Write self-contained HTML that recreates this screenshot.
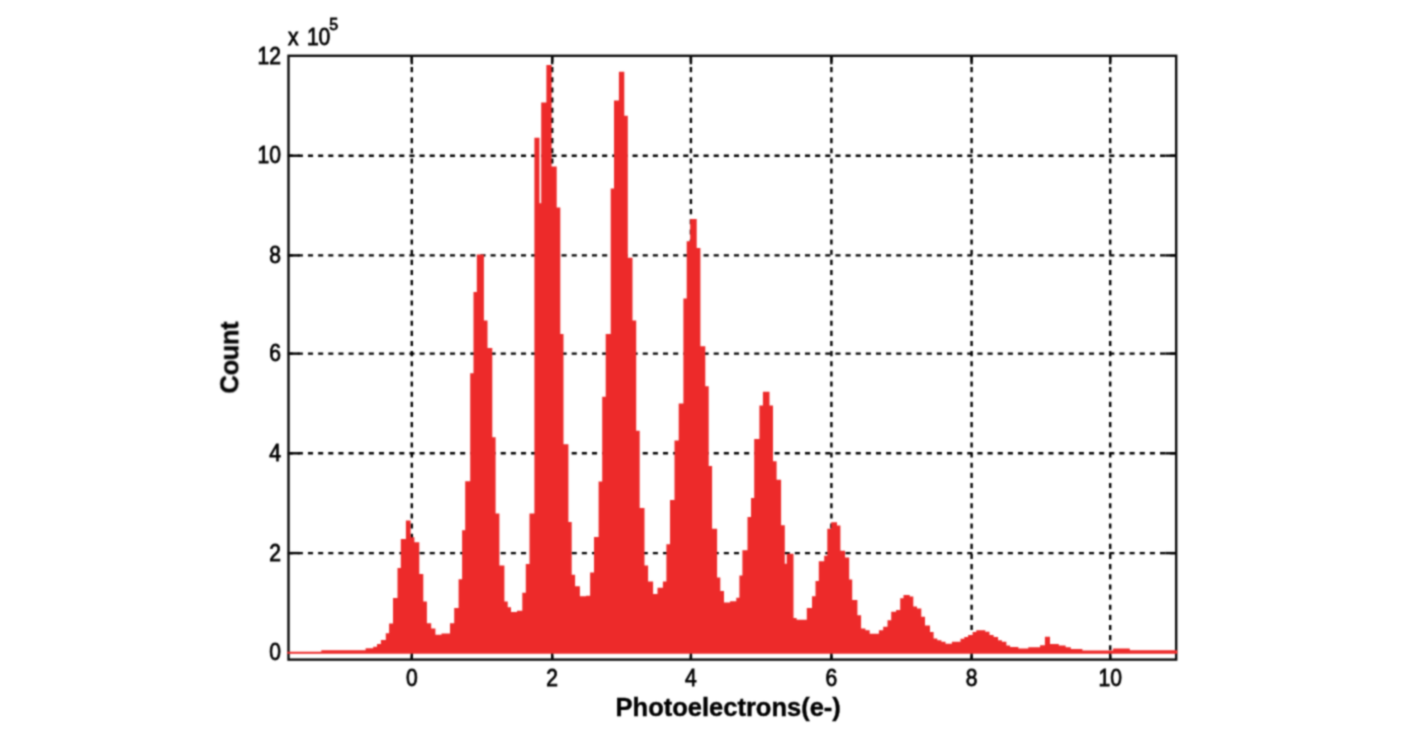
<!DOCTYPE html>
<html><head><meta charset="utf-8"><title>Photoelectron histogram</title>
<style>
html,body{margin:0;padding:0;background:#fff;}
body{width:1407px;height:732px;overflow:hidden;position:relative;}
svg{position:absolute;left:0;top:0;}
text{font-family:"Liberation Sans",Arial,sans-serif;}
</style></head><body>
<svg width="1407" height="732" viewBox="0 0 1407 732">
<defs><filter id="bl" x="0" y="0" width="1407" height="732" filterUnits="userSpaceOnUse" color-interpolation-filters="sRGB"><feConvolveMatrix order="5" kernelMatrix="0.00048 0.00501 0.01095 0.00501 0.00048 0.00501 0.05222 0.11405 0.05222 0.00501 0.01095 0.11405 0.24912 0.11405 0.01095 0.00501 0.05222 0.11405 0.05222 0.00501 0.00048 0.00501 0.01095 0.00501 0.00048" edgeMode="duplicate"/></filter></defs>
<rect x="0" y="0" width="1407" height="732" fill="#fff"/>
<g filter="url(#bl)">
<g stroke="#000000" stroke-width="2.4" stroke-dasharray="5.07 5.073" fill="none">
<line x1="287.7" y1="553.1" x2="1176.2" y2="553.1"/>
<line x1="287.7" y1="453.3" x2="1176.2" y2="453.3"/>
<line x1="287.7" y1="353.6" x2="1176.2" y2="353.6"/>
<line x1="287.7" y1="255.4" x2="1176.2" y2="255.4"/>
<line x1="287.7" y1="155.7" x2="1176.2" y2="155.7"/>
</g>
<g stroke="#000000" stroke-width="2.4" stroke-dasharray="5.07 5.073" fill="none">
<line x1="411.8" y1="56.95" x2="411.8" y2="659.6"/>
<line x1="552.2" y1="56.95" x2="552.2" y2="659.6"/>
<line x1="690.9" y1="56.95" x2="690.9" y2="659.6"/>
<line x1="831.4" y1="56.95" x2="831.4" y2="659.6"/>
<line x1="971.6" y1="56.95" x2="971.6" y2="659.6"/>
<line x1="1110.2" y1="56.95" x2="1110.2" y2="659.6"/>
</g>
<g stroke="#000000" stroke-width="2.4" fill="none">
<line x1="288.5" y1="553.1" x2="299.5" y2="553.1"/>
<line x1="1176.2" y1="553.1" x2="1165.2" y2="553.1"/>
<line x1="288.5" y1="453.3" x2="299.5" y2="453.3"/>
<line x1="1176.2" y1="453.3" x2="1165.2" y2="453.3"/>
<line x1="288.5" y1="353.6" x2="299.5" y2="353.6"/>
<line x1="1176.2" y1="353.6" x2="1165.2" y2="353.6"/>
<line x1="288.5" y1="255.4" x2="299.5" y2="255.4"/>
<line x1="1176.2" y1="255.4" x2="1165.2" y2="255.4"/>
<line x1="288.5" y1="155.7" x2="299.5" y2="155.7"/>
<line x1="1176.2" y1="155.7" x2="1165.2" y2="155.7"/>
<line x1="411.8" y1="659.6" x2="411.8" y2="651.1"/>
<line x1="411.8" y1="55.8" x2="411.8" y2="64.3"/>
<line x1="552.2" y1="659.6" x2="552.2" y2="651.1"/>
<line x1="552.2" y1="55.8" x2="552.2" y2="64.3"/>
<line x1="690.9" y1="659.6" x2="690.9" y2="651.1"/>
<line x1="690.9" y1="55.8" x2="690.9" y2="64.3"/>
<line x1="831.4" y1="659.6" x2="831.4" y2="651.1"/>
<line x1="831.4" y1="55.8" x2="831.4" y2="64.3"/>
<line x1="971.6" y1="659.6" x2="971.6" y2="651.1"/>
<line x1="971.6" y1="55.8" x2="971.6" y2="64.3"/>
<line x1="1110.2" y1="659.6" x2="1110.2" y2="651.1"/>
<line x1="1110.2" y1="55.8" x2="1110.2" y2="64.3"/>
</g>
<rect x="288.5" y="55.8" width="887.7" height="603.8" fill="none" stroke="#0a0a0a" stroke-width="2.4"/>
<path d="M287.2 653.8 L287.2 651.7 L321.3 651.7 L321.3 650.2 L365.6 650.2 L365.6 648.3 L373.2 648.3 L373.2 646.7 L377.0 646.7 L377.0 644.0 L380.9 644.0 L380.9 640.1 L385.8 640.1 L385.8 633.2 L389.1 633.2 L389.1 623.5 L393.0 623.5 L393.0 598.0 L397.5 598.0 L397.5 567.9 L400.8 567.9 L400.8 539.0 L405.9 539.0 L405.9 520.4 L410.6 520.4 L410.6 537.3 L414.4 537.3 L414.4 542.2 L419.3 542.2 L419.3 574.0 L423.3 574.0 L423.3 601.4 L426.9 601.4 L426.9 623.3 L431.2 623.3 L431.2 628.6 L435.4 628.6 L435.4 634.8 L441.5 634.8 L441.5 633.5 L450.0 633.5 L450.0 623.3 L454.2 623.3 L454.2 608.0 L458.6 608.0 L458.6 579.3 L462.1 579.3 L462.1 530.3 L465.2 530.3 L465.2 481.3 L470.2 481.3 L470.2 373.3 L473.5 373.3 L473.5 292.1 L476.8 292.1 L476.8 254.6 L483.9 254.6 L483.9 320.5 L487.5 320.5 L487.5 348.0 L492.3 348.0 L492.3 437.3 L495.6 437.3 L495.6 513.5 L499.4 513.5 L499.4 565.6 L504.4 565.6 L504.4 601.5 L507.7 601.5 L507.7 607.2 L511.0 607.2 L511.0 612.1 L517.0 612.1 L517.0 610.8 L522.3 610.8 L522.3 592.8 L525.8 592.8 L525.8 563.9 L529.5 563.9 L529.5 513.6 L534.4 513.6 L534.4 137.7 L539.5 137.7 L539.5 203.3 L541.2 203.3 L541.2 102.4 L546.4 102.4 L546.4 64.9 L551.6 64.9 L551.6 166.4 L556.7 166.4 L556.7 207.4 L560.3 207.4 L560.3 334.1 L563.5 334.1 L563.5 444.3 L568.4 444.3 L568.4 522.1 L571.7 522.1 L571.7 574.7 L575.1 574.7 L575.1 586.3 L579.9 586.3 L579.9 596.3 L586.0 596.3 L586.0 595.8 L590.1 595.8 L590.1 572.6 L594.0 572.6 L594.0 537.1 L598.6 537.1 L598.6 481.5 L602.2 481.5 L602.2 396.7 L605.7 396.7 L605.7 334.1 L610.7 334.1 L610.7 188.5 L614.0 188.5 L614.0 100.4 L618.9 100.4 L618.9 71.7 L624.3 71.7 L624.3 115.7 L627.8 115.7 L627.8 257.8 L632.5 257.8 L632.5 320.6 L636.2 320.6 L636.2 430.7 L639.7 430.7 L639.7 508.0 L644.5 508.0 L644.5 565.5 L648.1 565.5 L648.1 581.5 L653.1 581.5 L653.1 593.9 L657.5 593.9 L657.5 587.7 L662.9 587.7 L662.9 581.5 L666.4 581.5 L666.4 544.2 L670.0 544.2 L670.0 500.0 L674.5 500.0 L674.5 440.6 L678.7 440.6 L678.7 403.4 L683.4 403.4 L683.4 298.5 L686.7 298.5 L686.7 241.2 L690.2 241.2 L690.2 218.9 L696.7 218.9 L696.7 248.0 L700.4 248.0 L700.4 346.2 L705.3 346.2 L705.3 386.3 L708.7 386.3 L708.7 466.0 L712.1 466.0 L712.1 528.8 L717.1 528.8 L717.1 577.4 L720.3 577.4 L720.3 590.9 L724.0 590.9 L724.0 602.6 L730.1 602.6 L730.1 601.2 L736.3 601.2 L736.3 597.7 L739.4 597.7 L739.4 575.5 L742.4 575.5 L742.4 550.3 L747.5 550.3 L747.5 517.1 L751.0 517.1 L751.0 498.0 L754.2 498.0 L754.2 439.0 L759.4 439.0 L759.4 405.5 L762.9 405.5 L762.9 391.7 L769.5 391.7 L769.5 405.5 L773.0 405.5 L773.0 461.2 L776.6 461.2 L776.6 479.7 L781.1 479.7 L781.1 525.3 L784.8 525.3 L784.8 563.7 L786.7 563.7 L786.7 553.8 L793.5 553.8 L793.5 618.0 L796.6 618.0 L796.6 619.8 L806.8 619.8 L806.8 608.0 L812.0 608.0 L812.0 596.3 L815.5 596.3 L815.5 581.0 L818.8 581.0 L818.8 561.2 L824.2 561.2 L824.2 555.7 L827.3 555.7 L827.3 528.7 L831.2 528.7 L831.2 522.3 L837.0 522.3 L837.0 525.6 L840.4 525.6 L840.4 550.8 L845.1 550.8 L845.1 557.5 L849.2 557.5 L849.2 579.6 L852.2 579.6 L852.2 600.0 L857.4 600.0 L857.4 615.3 L861.1 615.3 L861.1 628.4 L865.4 628.4 L865.4 630.3 L869.7 630.3 L869.7 633.7 L878.9 633.7 L878.9 630.3 L883.2 630.3 L883.2 626.8 L887.5 626.8 L887.5 620.2 L891.2 620.2 L891.2 611.8 L896.1 611.8 L896.1 610.0 L900.2 610.0 L900.2 598.3 L903.5 598.3 L903.5 595.0 L909.7 595.0 L909.7 596.4 L913.3 596.4 L913.3 606.5 L917.0 606.5 L917.0 608.4 L921.3 608.4 L921.3 616.7 L925.0 616.7 L925.0 625.4 L930.0 625.4 L930.0 632.1 L933.6 632.1 L933.6 638.5 L937.3 638.5 L937.3 640.2 L941.4 640.2 L941.4 641.7 L945.5 641.7 L945.5 643.7 L951.9 643.7 L951.9 641.8 L960.5 641.8 L960.5 638.8 L964.3 638.8 L964.3 636.9 L968.1 636.9 L968.1 635.1 L972.6 635.1 L972.6 632.0 L976.3 632.0 L976.3 630.2 L985.3 630.2 L985.3 631.7 L989.5 631.7 L989.5 635.1 L993.6 635.1 L993.6 636.9 L998.1 636.9 L998.1 640.3 L1001.9 640.3 L1001.9 641.8 L1006.4 641.8 L1006.4 645.6 L1010.1 645.6 L1010.1 647.1 L1018.4 647.1 L1018.4 648.6 L1028.3 648.6 L1028.3 647.3 L1040.1 647.3 L1040.1 645.3 L1044.9 645.3 L1044.9 636.8 L1050.0 636.8 L1050.0 643.9 L1058.8 643.9 L1058.8 645.6 L1065.6 645.6 L1065.6 647.3 L1070.8 647.3 L1070.8 648.9 L1082.4 648.9 L1082.4 650.4 L1113.1 650.4 L1113.1 648.4 L1129.8 648.4 L1129.8 650.3 L1177.3 650.3 L1177.3 653.8 Z" fill="#ed2a2a" stroke="none"/>
<g font-size="23.7" fill="#000000" stroke="#000000" stroke-width="0.8">
<text transform="translate(281.0,660.1) scale(0.89,1)" text-anchor="end">0</text>
<text transform="translate(281.0,560.7) scale(0.89,1)" text-anchor="end">2</text>
<text transform="translate(281.0,460.9) scale(0.89,1)" text-anchor="end">4</text>
<text transform="translate(281.0,361.1) scale(0.89,1)" text-anchor="end">6</text>
<text transform="translate(281.0,263.0) scale(0.89,1)" text-anchor="end">8</text>
<text transform="translate(281.0,163.3) scale(0.89,1)" text-anchor="end">10</text>
<text transform="translate(281.0,63.6) scale(0.89,1)" text-anchor="end">12</text>
<text transform="translate(411.8,686.0) scale(0.89,1)" text-anchor="middle">0</text>
<text transform="translate(552.2,686.0) scale(0.89,1)" text-anchor="middle">2</text>
<text transform="translate(690.9,686.0) scale(0.89,1)" text-anchor="middle">4</text>
<text transform="translate(831.4,686.0) scale(0.89,1)" text-anchor="middle">6</text>
<text transform="translate(971.6,686.0) scale(0.89,1)" text-anchor="middle">8</text>
<text transform="translate(1110.2,686.0) scale(0.89,1)" text-anchor="middle">10</text>
<text transform="translate(288.0,44.9) scale(0.89,1)">x</text>
<text transform="translate(306.9,44.9) scale(0.89,1)">10</text>
<text transform="translate(329.2,30.0) scale(1.0,1)" font-size="16">5</text>
</g>
<g font-weight="bold" fill="#000" stroke="#000" stroke-width="0.4">
<text x="728.2" y="716.0" text-anchor="middle" font-size="25.5" letter-spacing="0.0">Photoelectrons(e-)</text>
<text transform="translate(238.3,357.6) rotate(-90)" text-anchor="middle" font-size="25.5" letter-spacing="-0.35">Count</text>
</g>
</g>
</svg>
</body></html>
